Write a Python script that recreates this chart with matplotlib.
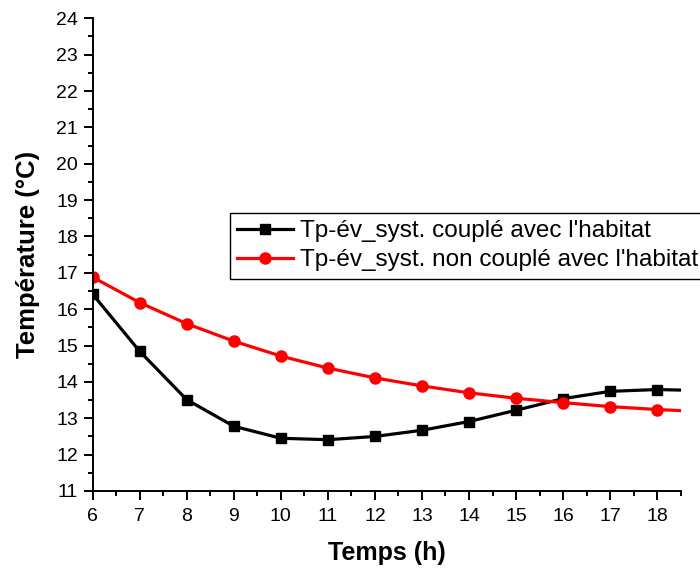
import matplotlib.pyplot as plt
import numpy as np

plt.rcParams['font.family'] = ['Liberation Sans', 'DejaVu Sans']

# hours of the day
hours = [6, 7, 8, 9, 10, 11, 12, 13, 14, 15, 16, 17, 18, 19]

# temperature of the coupled system (deg C)
temp_couple = [16.41, 14.84, 13.51, 12.78, 12.45, 12.41, 12.50, 12.67, 12.91, 13.22, 13.54, 13.74, 13.79, 13.76]

# temperature of the non-coupled system (deg C)
temp_non_couple = [16.88, 16.18, 15.60, 15.12, 14.71, 14.38, 14.11, 13.89, 13.70, 13.55, 13.43, 13.32, 13.24, 13.18]

label_couple = "Tp-év_syst. couplé avec l'habitat"
label_non_couple = "Tp-év_syst. non couplé avec l'habitat"

fig = plt.figure(figsize=(7.0, 5.68), dpi=100)
ax = fig.add_axes([0.1324, 0.1356, 0.84, 0.8322])

# markers only on the whole hours shown
marks = list(range(len(hours) - 1))
ax.plot(hours, temp_couple, color='black', linewidth=2.3, marker='s', markersize=7, markevery=marks, label=label_couple)
ax.plot(hours, temp_non_couple, color='red', linewidth=2.3, marker='o', markersize=8, markevery=marks, label=label_non_couple)

ax.set_xlim(6, 18.5)
ax.set_ylim(11, 24)
ax.set_xticks(np.arange(6, 19, 1))
ax.set_xticks(np.arange(6.5, 18.6, 1), minor=True)
ax.set_yticks(np.arange(11, 25, 1))
ax.set_yticks(np.arange(11.5, 24, 1), minor=True)

ax.spines['top'].set_visible(False)
ax.spines['right'].set_visible(False)
ax.spines['left'].set_linewidth(1.4)
ax.spines['bottom'].set_linewidth(1.4)
ax.tick_params(which='major', direction='out', length=6.5, width=1.4, labelsize=14)
ax.tick_params(axis='x', which='major', pad=6)
ax.tick_params(axis='y', which='major', pad=4)
ax.tick_params(which='minor', direction='out', length=3.5, width=1.4)

ax.set_xlabel('Temps (h)', fontsize=18, fontweight='bold', labelpad=11)
ax.set_ylabel('Température (°C)', fontsize=18.5, fontweight='bold', labelpad=12)

leg = fig.legend(loc='upper left', bbox_to_anchor=(0.328, 0.6255), fontsize=17.5, frameon=True, fancybox=False, edgecolor='black', framealpha=1, borderpad=0.3, handlelength=2.3, handletextpad=0.3, labelspacing=0.3, borderaxespad=0)
leg.get_frame().set_linewidth(1.0)

fig.savefig('out.png', dpi=100)
